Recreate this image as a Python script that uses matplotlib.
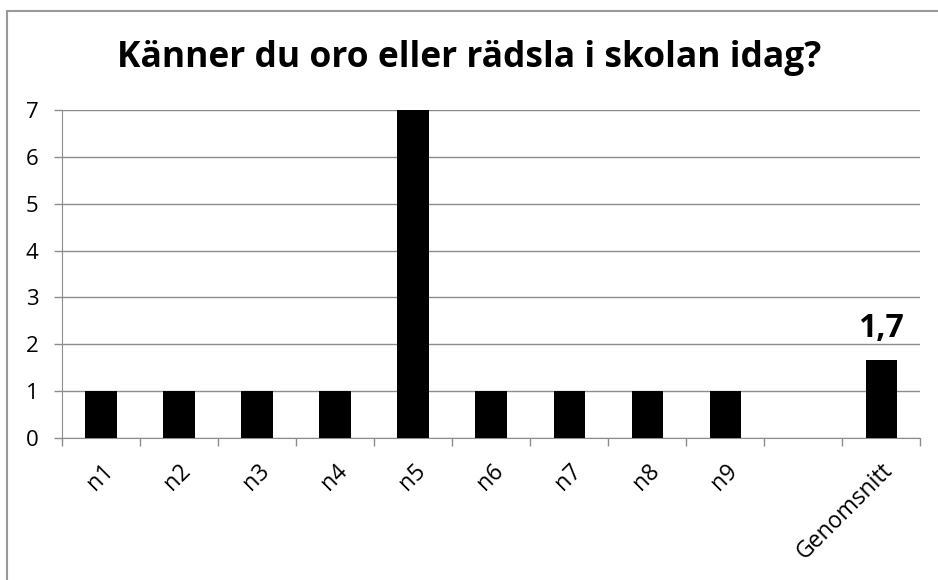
import matplotlib.pyplot as plt
import numpy as np
from matplotlib.patches import Rectangle

categories = ['n1', 'n2', 'n3', 'n4', 'n5', 'n6', 'n7', 'n8', 'n9', '', 'Genomsnitt']
values = [1, 1, 1, 1, 7, 1, 1, 1, 1, 0, 1.67]
avg_label = '1,7'

plt.rcParams['font.family'] = ['Open Sans', 'DejaVu Sans']

fig = plt.figure(figsize=(9.38, 5.8), dpi=100)
ax = fig.add_axes([0.0661, 0.2448, 0.9149, 0.5655])

x = np.arange(len(categories))
ax.bar(x, values, width=0.4, color='black', zorder=3)
ax.text(x[-1], values[-1] + 0.32, avg_label, ha='center', va='bottom',
        fontsize=23, fontweight='bold')

ax.set_xlim(-0.5, len(categories) - 0.5)
ax.set_ylim(0, 7)
ax.set_yticks(range(8))
ax.grid(axis='y', color='#8c8c8c', lw=1, zorder=0)

ax.set_xticks(x)
ax.set_xticklabels(categories, rotation=45, ha='right', rotation_mode='anchor', fontsize=16.5)
ax.tick_params(axis='x', length=0, pad=15)
ax.set_xticks(np.arange(len(categories) + 1) - 0.5, minor=True)
ax.tick_params(axis='x', which='minor', length=6, color='#8c8c8c', width=1)
ax.tick_params(axis='y', length=6, color='#8c8c8c', width=1, labelsize=16, pad=11)

for s in ['top', 'right']:
    ax.spines[s].set_visible(False)
for s in ['left', 'bottom']:
    ax.spines[s].set_color('#8c8c8c')

fig.text(0.5, 1 - 58 / 580, 'Känner du oro eller rädsla i skolan idag?', ha='center', va='center',
         fontsize=25.5, fontweight='bold')

fig.patches.append(Rectangle((7 / 938, -0.1), 1.2, 1 - 10.5 / 580 + 0.1, transform=fig.transFigure,
                             fill=False, edgecolor='#999999', lw=1.5))

fig.savefig('out.png', dpi=100)
